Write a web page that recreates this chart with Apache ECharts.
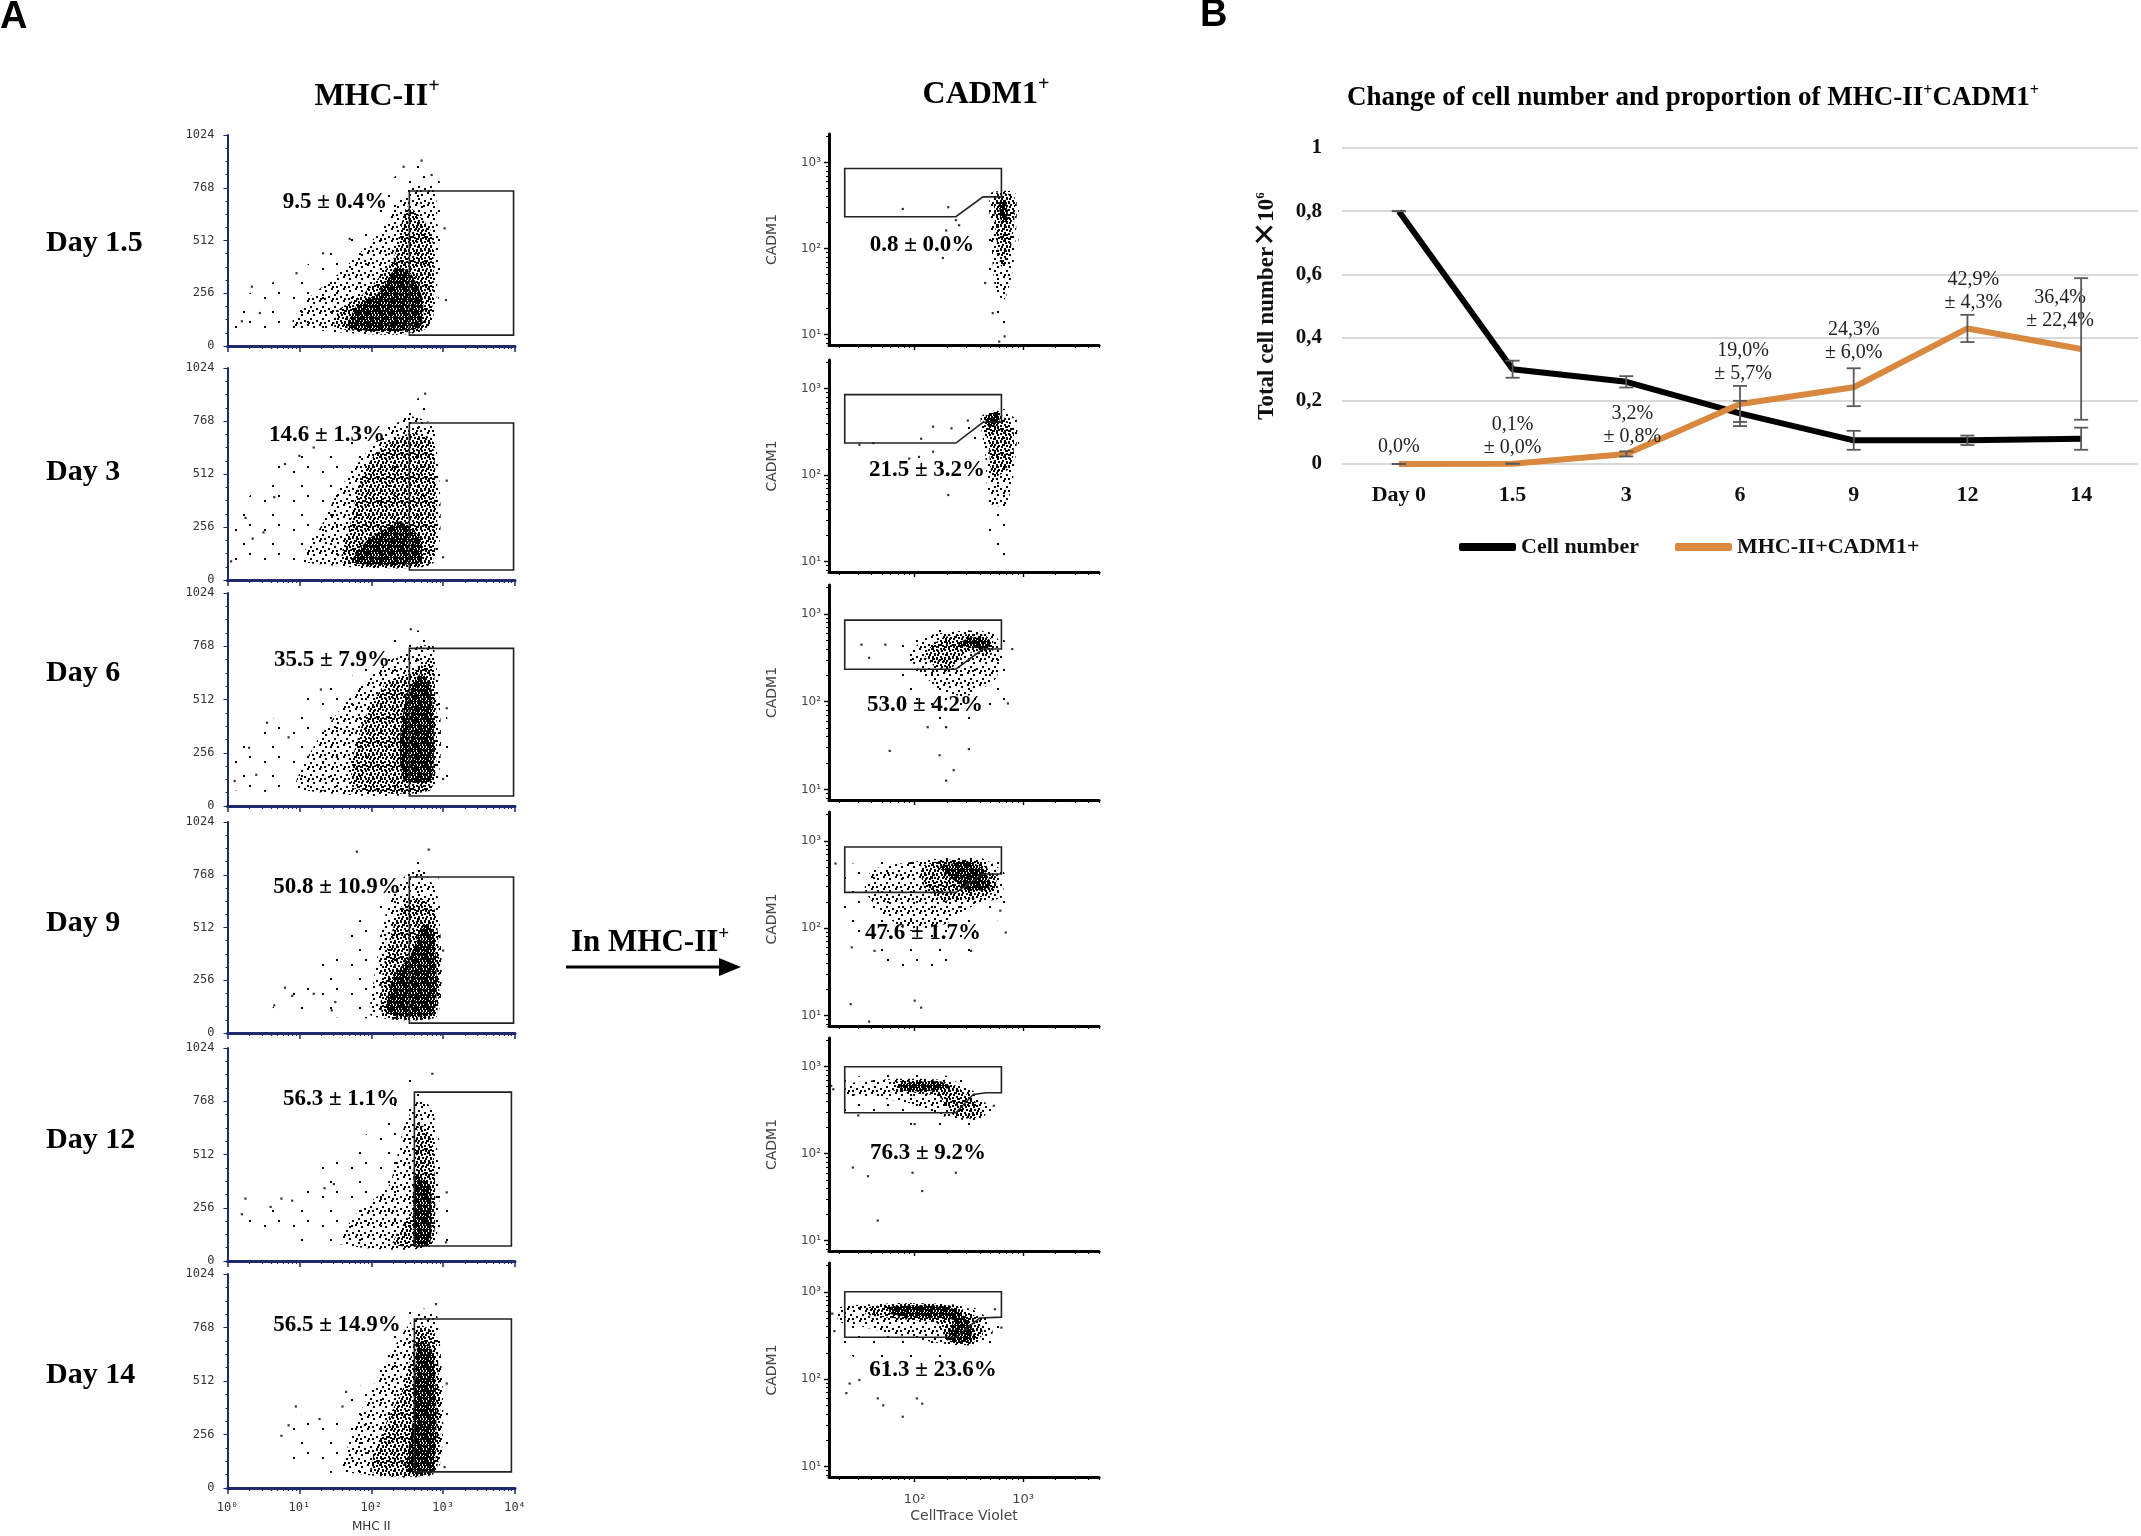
<!DOCTYPE html>
<html lang="en">
<head>
<meta charset="UTF-8">
<title>MHC-II / CADM1</title>
<script src="https://cdn.jsdelivr.net/npm/echarts@6/dist/echarts.min.js"></script>
<style>
  html, body { margin: 0; padding: 0; background: #fff; }
  #main { width: 2141px; height: 1536px; }
</style>
</head>
<body>
<div id="main"></div>
<script type="text/javascript">
// ---------- panel B data ----------
var days = ['Day 0', '1.5', '3', '6', '9', '12', '14'];
var cellNumber = [0.80, 0.30, 0.26, 0.16, 0.075, 0.075, 0.08];
var cellNumberErr = [0, 0.027, 0.018, 0.04, 0.03, 0.015, 0.035];
var doublePos = [0, 0.001, 0.032, 0.19, 0.243, 0.429, 0.364];
var doublePosErr = [0, 0, 0.008, 0.057, 0.06, 0.043, 0.224];
var doublePosText = ['0,0%', '0,1%', '3,2%', '19,0%', '24,3%', '42,9%', '36,4%'];
var doublePosErrText = ['', '± 0,0%', '± 0,8%', '± 5,7%', '± 6,0%', '± 4,3%', '± 22,4%'];

// ---------- panel A data ----------
var dayNames = ['Day 1.5', 'Day 3', 'Day 6', 'Day 9', 'Day 12', 'Day 14'];
var mhcPct = ['9.5 ± 0.4%', '14.6 ± 1.3%', '35.5 ± 7.9%', '50.8 ± 10.9%', '56.3 ± 1.1%', '56.5 ± 14.9%'];
var cadmPct = ['0.8 ± 0.0%', '21.5 ± 3.2%', '53.0 ± 4.2%', '47.6 ± 1.7%', '76.3 ± 9.2%', '61.3 ± 23.6%'];

// MHC II gate: [log10 x from, log10 x to, y from, y to]
var mhcGates = [
  [2.53, 3.98, 53, 752], [2.53, 3.98, 48, 758], [2.53, 3.98, 48, 758],
  [2.53, 3.98, 48, 757], [2.60, 3.95, 72, 812], [2.60, 3.95, 77, 809]
];
// CADM1 gate outlines, [log10 CellTrace Violet, log10 CADM1]
var cadmGates = [
  [[1.355, 2.93], [2.80, 2.93], [2.80, 2.60], [2.63, 2.60], [2.38, 2.37], [1.355, 2.37]],
  [[1.355, 2.93], [2.80, 2.93], [2.80, 2.61], [2.63, 2.61], [2.38, 2.37], [1.355, 2.37]],
  [[1.355, 2.93], [2.80, 2.93], [2.80, 2.60], [2.63, 2.60], [2.38, 2.37], [1.355, 2.37]],
  [[1.355, 2.93], [2.80, 2.93], [2.80, 2.62], [2.63, 2.62], [2.38, 2.41], [1.355, 2.41]],
  [[1.355, 3.0], [2.80, 3.0], [2.80, 2.70], [2.66, 2.70], [2.54, 2.68], [2.38, 2.47], [1.355, 2.47]],
  [[1.355, 3.0], [2.80, 3.0], [2.80, 2.71], [2.60, 2.70], [2.38, 2.48], [1.355, 2.48]]
];

var mhcClouds = [
  [ // Day 1.5
    [[0.01,175],[0,78],[2.79,78],[2.94,838],[2.45,870],[1.8,547],[0.9,353],[0.31,256]],
    [[0.91,86],[2.79,86],[2.89,773],[2.55,773],[2.1,547],[1.55,353],[1.1,223],[0.91,126]],
    [[1.5,86],[2.77,86],[2.84,547],[2.5,676],[2.3,417],[1.9,256],[1.55,175]],
    [[1.68,86],[2.67,86],[2.72,223],[2.55,353],[2.35,385],[2.1,256],[1.8,199]]
  ],
  [ // Day 3
    [[0.11,97],[0.11,290],[0.76,597],[1.5,629],[2.45,839],[2.79,887],[2.94,161],[2.89,84],[1.0,84]],
    [[1.06,84],[2.87,84],[2.87,742],[2.5,790],[2.0,645],[1.55,435],[1.3,258],[1.1,161]],
    [[1.6,84],[2.84,84],[2.85,677],[2.55,710],[2.1,629],[1.85,484],[1.7,258]],
    [[1.73,84],[2.69,84],[2.67,210],[2.4,282],[2.25,258],[1.95,194]]
  ],
  [ // Day 6
    [[0.11,77],[0.11,302],[0.61,414],[1.3,558],[1.8,639],[2.4,831],[2.84,831],[3.04,478],[3.04,93],[0.9,77]],
    [[0.96,85],[2.87,85],[2.87,767],[2.5,751],[2.05,639],[1.6,478],[1.2,286]],
    [[1.75,85],[2.84,85],[2.85,703],[2.55,639],[2.2,591],[1.9,414],[1.75,238]],
    [[2.45,125],[2.84,125],[2.84,558],[2.7,639],[2.5,543],[2.4,318]]
  ],
  [ // Day 9
    [[0.61,130],[0.96,221],[1.6,449],[2.15,677],[2.55,814],[2.89,848],[3.02,267],[2.99,84],[1.06,84]],
    [[2.0,84],[2.92,84],[2.92,677],[2.69,791],[2.5,768],[2.3,700],[2.15,495],[2.02,221]],
    [[2.17,84],[2.9,84],[2.9,586],[2.69,654],[2.45,632],[2.25,449],[2.15,267]],
    [[2.22,96],[2.87,96],[2.87,495],[2.72,529],[2.55,381],[2.3,267]]
  ],
  [ // Day 12
    [[0.16,207],[0.96,298],[1.3,455],[2.2,681],[2.5,884],[2.79,861],[3.04,343],[3.04,83],[1.0,83]],
    [[1.55,83],[2.87,83],[2.87,726],[2.65,771],[2.45,636],[2.25,365],[1.8,230]],
    [[2.3,83],[2.85,83],[2.85,591],[2.67,658],[2.6,501],[2.55,230]],
    [[2.6,83],[2.82,83],[2.82,365],[2.62,410]]
  ],
  [ // Day 14
    [[0.76,169],[0.96,349],[1.35,326],[1.8,461],[2.25,754],[2.55,844],[2.89,855],[3.04,506],[3.02,79],[1.26,79]],
    [[1.6,79],[2.92,79],[2.92,821],[2.65,833],[2.3,664],[1.8,326],[1.65,169]],
    [[2.0,79],[2.9,79],[2.9,731],[2.67,776],[2.45,484],[2.2,304]],
    [[2.5,79],[2.87,79],[2.87,641],[2.65,709],[2.6,371]]
  ]
];
var mhcStray = [
  [[3.02,571],[3.04,223],[2.45,870],[2.84,830],[0.34,288],[0.96,353],[1.33,450],[0.2,120],[0.45,160],[2.7,900],[1.7,520]],
  [[0.05,90],[0.25,300],[0.35,200],[0.8,560],[1.0,600],[0.65,400],[3.05,480],[3.0,110],[2.75,900],[1.2,640],[0.5,230]],
  [[0.1,120],[0.3,280],[0.55,400],[0.85,330],[1.3,560],[3.05,470],[3.0,130],[2.55,850],[0.4,150]],
  [[0.65,134],[0.8,220],[0.9,180],[1.2,190],[1.5,150],[3.0,400],[2.8,890],[1.8,880],[1.45,110]],
  [[0.2,225],[0.25,300],[0.6,260],[0.75,300],[0.9,290],[1.35,350],[1.48,370],[3.04,90],[3.05,330],[2.85,900]],
  [[0.75,250],[0.85,300],[0.95,390],[1.28,330],[1.6,390],[1.65,460],[3.05,500],[3.02,100],[2.9,880]]
];
var cadmClouds = [
  [ // Day 1.5
    [[2.63,2.33],[2.72,2.67],[2.94,2.71],[2.95,1.87],[2.86,1.02],[2.77,0.95],[2.69,1.68],[2.65,2.02]],
    [[2.7,2.64],[2.93,2.64],[2.91,1.79],[2.83,1.41],[2.75,1.48],[2.71,2.02]],
    [[2.74,2.64],[2.92,2.6],[2.89,2.02],[2.8,1.79],[2.75,2.17]],
    [[2.78,2.55],[2.84,2.56],[2.86,2.32],[2.8,2.3]]
  ],
  [ // Day 3
    [[2.38,2.44],[2.6,2.71],[2.72,2.81],[2.95,2.65],[2.94,1.79],[2.84,1.06],[2.72,1.06],[2.65,1.79],[2.6,2.25]],
    [[2.61,2.67],[2.74,2.75],[2.94,2.64],[2.91,1.98],[2.84,1.64],[2.69,1.68],[2.65,2.25]],
    [[2.63,2.65],[2.75,2.75],[2.91,2.52],[2.89,2.1],[2.72,1.98],[2.68,2.37]],
    [[2.65,2.67],[2.77,2.73],[2.78,2.6],[2.68,2.56]]
  ],
  [ // Day 6
    [[1.77,2.44],[1.95,2.75],[2.26,2.83],[2.64,2.79],[2.89,2.64],[2.87,1.98],[2.53,1.75],[2.23,1.71],[1.99,2.06],[1.82,2.33]],
    [[1.95,2.52],[2.12,2.75],[2.47,2.81],[2.74,2.77],[2.81,2.52],[2.74,2.25],[2.47,2.06],[2.23,2.14],[2.06,2.33]],
    [[2.09,2.54],[2.26,2.73],[2.57,2.77],[2.72,2.71],[2.7,2.52],[2.47,2.56],[2.33,2.37],[2.19,2.4]],
    [[2.4,2.65],[2.5,2.73],[2.69,2.71],[2.67,2.6],[2.52,2.62]]
  ],
  [ // Day 9
    [[1.27,2.67],[1.44,2.74],[1.95,2.78],[2.47,2.86],[2.77,2.78],[2.86,2.47],[2.81,2.2],[2.53,1.67],[1.95,1.51],[1.54,1.78],[1.27,2.28]],
    [[1.61,2.67],[2.12,2.78],[2.57,2.82],[2.79,2.67],[2.81,2.36],[2.57,2.28],[2.29,2.05],[1.95,1.97],[1.68,2.2],[1.54,2.44]],
    [[2.06,2.7],[2.29,2.78],[2.57,2.77],[2.75,2.59],[2.73,2.4],[2.53,2.34],[2.26,2.32],[2.09,2.47]],
    [[2.23,2.7],[2.5,2.76],[2.64,2.67],[2.7,2.47],[2.53,2.42],[2.36,2.55]]
  ],
  [ // Day 12
    [[1.22,2.84],[1.83,2.92],[2.38,2.88],[2.68,2.69],[2.71,2.49],[2.6,2.32],[2.23,2.3],[1.77,2.36],[1.4,2.42],[1.22,2.65]],
    [[1.37,2.8],[1.86,2.86],[2.35,2.84],[2.54,2.72],[2.68,2.53],[2.6,2.38],[2.29,2.42],[1.98,2.57],[1.62,2.65],[1.37,2.69]],
    [[1.8,2.82],[2.11,2.85],[2.35,2.8],[2.51,2.65],[2.63,2.49],[2.54,2.4],[2.35,2.45],[2.23,2.65],[1.98,2.7],[1.8,2.73]],
    [[1.86,2.8],[2.23,2.83],[2.34,2.76],[2.11,2.72],[1.89,2.73]]
  ],
  [ // Day 14
    [[1.23,2.83],[1.77,2.91],[2.35,2.89],[2.66,2.76],[2.81,2.57],[2.72,2.41],[2.38,2.3],[1.98,2.18],[1.55,2.14],[1.37,2.34],[1.23,2.57]],
    [[1.3,2.82],[1.83,2.87],[2.38,2.85],[2.63,2.74],[2.72,2.53],[2.54,2.39],[2.23,2.41],[1.92,2.49],[1.55,2.59],[1.3,2.66]],
    [[1.55,2.82],[1.92,2.87],[2.35,2.84],[2.56,2.72],[2.63,2.51],[2.48,2.39],[2.29,2.45],[2.23,2.64],[1.86,2.69],[1.55,2.74]],
    [[1.77,2.83],[2.23,2.84],[2.41,2.78],[2.53,2.57],[2.5,2.43],[2.3,2.46],[2.35,2.68],[1.98,2.71],[1.77,2.75]]
  ]
];
var cadmStray = [
  [[1.89,2.46],[2.31,2.48],[2.26,1.89],[2.65,1.6],[2.38,2.33],[2.41,2.27],[2.29,2.21],[2.78,0.92],[2.83,0.98],[2.72,1.25]],
  [[1.49,2.35],[1.62,2.37],[2.06,2.42],[2.17,2.56],[2.34,2.54],[1.95,2.19],[2.04,2.21],[2.17,2.27],[2.31,1.77],[2.49,2.63]],
  [[1.51,2.65],[1.73,2.65],[1.58,2.5],[1.77,1.44],[2.12,1.71],[2.29,1.71],[2.23,1.39],[2.36,1.22],[2.29,1.1],[2.5,1.46],[2.86,1.98],[2.9,2.6]],
  [[1.27,2.74],[1.42,1.78],[1.63,1.74],[2.52,1.74],[2.0,1.17],[2.06,1.09],[1.41,1.13],[1.58,0.93],[2.84,1.95],[2.79,2.2],[1.22,2.6]],
  [[1.23,2.78],[1.25,2.74],[1.43,1.84],[1.57,1.74],[1.98,1.78],[2.38,1.78],[2.07,1.57],[1.66,1.23],[1.48,2.44],[2.0,2.34],[2.73,2.55]],
  [[1.26,2.55],[1.37,1.84],[1.4,1.95],[1.66,1.78],[1.71,1.7],[1.89,1.57],[2.02,1.78],[2.07,1.72],[2.8,2.59],[2.74,2.8],[1.49,1.99],[1.24,2.75]]
];

// ---------- layout ----------
var leftTops = [135, 368, 593, 822, 1048, 1274];
var leftHeights = [211, 212, 213, 211, 213, 214];
var rightTops = [134, 360, 585, 812, 1038, 1263];
var rightHeights = [211, 212, 215, 214, 213, 214];
var dayLabelY = [243, 472, 673, 923, 1140, 1375];
var mhcPctPos = [[335, 202], [327, 435], [332, 660], [337, 887], [341, 1099], [337, 1325]];
var cadmPctPos = [[922, 245], [927, 470], [925, 705], [923, 933], [928, 1153], [933, 1370]];
var labelLift = [5, 4, 5, 18, 22, 14, 16];
var labelShift = [0, 0, 6, 3, 0, 6, -21];

var NAVY = '#1d2a6b';
var ORANGE = '#d9883f';
var SERIF = '"Liberation Serif", "Times New Roman", serif';
var SUP = { '0': '⁰', '1': '¹', '2': '²', '3': '³', '4': '⁴' };

var chart = echarts.init(document.getElementById('main'), null, { renderer: 'canvas' });

// stipple fills for the cloud zones (sparse -> packed)
var tileSpecs = [
  { size: 29, dots: [[3, 7], [17, 2], [11, 21]] },
  { size: 12, dots: [[1, 2], [7, 0], [10, 6], [4, 8], [8, 10], [0, 10]] },
  { size: 8, dots: [[0, 1], [4, 0], [2, 4], [6, 5], [5, 2], [1, 6]] },
  { size: 6, dots: [[0, 0], [3, 0], [1, 2], [4, 2], [0, 4], [3, 4], [2, 5], [5, 5], [5, 1]] }
];
function makeTile(spec) {
  var c = document.createElement('canvas');
  c.width = c.height = spec.size;
  var ctx = c.getContext('2d');
  ctx.fillStyle = '#000';
  spec.dots.forEach(function (d) { ctx.fillRect(d[0], d[1], 2, 2); });
  return { image: c, repeat: 'repeat' };
}
var levelFills = tileSpecs.map(makeTile);

function logMinors(lo, hi) {
  var v = [];
  for (var d = Math.floor(lo); d < hi; d++) {
    for (var m = 2; m <= 9; m++) {
      var t = d + Math.log10(m);
      if (t > lo && t < hi) v.push(t);
    }
  }
  return v;
}

var grids = [], xAxes = [], yAxes = [], series = [], graphics = [];

function addGrid(box) {
  box.containLabel = false;
  box.outerBoundsMode = 'none';
  grids.push(box);
  return grids.length - 1;
}

function cloudSeries(xi, yi, levels) {
  return {
    type: 'custom', xAxisIndex: xi, yAxisIndex: yi, silent: true, z: 2,
    data: levels.map(function (p) { return p[0]; }),
    renderItem: function (params, api) {
      var poly = levels[params.dataIndex];
      return {
        type: 'polygon',
        shape: { points: poly.map(function (p) { return api.coord(p); }), smooth: 0.2 },
        style: { fill: levelFills[params.dataIndex], stroke: null }
      };
    }
  };
}

function gateSeries(xi, yi, pts) {
  return {
    type: 'custom', xAxisIndex: xi, yAxisIndex: yi, silent: true, z: 4,
    data: [pts[0]],
    renderItem: function (params, api) {
      return {
        type: 'polygon',
        shape: { points: pts.map(function (p) { return api.coord(p); }) },
        style: { fill: 'none', stroke: '#222', lineWidth: 1.6 }
      };
    }
  };
}

function strays(xi, yi, pts) {
  return {
    type: 'scatter', xAxisIndex: xi, yAxisIndex: yi, silent: true, z: 3,
    symbol: 'rect', symbolSize: 2.2, itemStyle: { color: '#000' }, data: pts
  };
}

function plainNum(v) { return String(v); }

// ---------- left column: MHC II plots ----------
for (var i = 0; i < 6; i++) {
  var g = addGrid({ left: 227.5, top: leftTops[i], width: 287.5, height: leftHeights[i] });
  var xi = xAxes.length;
  xAxes.push({
    type: 'value', gridIndex: g, position: 'bottom', min: 0, max: 4, interval: 1,
    axisLine: { show: true, lineStyle: { color: NAVY, width: 3 } },
    axisTick: { show: true, length: 6, lineStyle: { color: NAVY, width: 1.5 } },
    axisLabel: {
      show: i === 5, margin: 14, fontFamily: 'DejaVu Sans Mono', fontSize: 12, color: '#333',
      formatter: function (v) { return '10' + SUP[String(v)]; }
    },
    splitLine: { show: false },
    name: i === 5 ? 'MHC II' : '', nameLocation: 'middle', nameGap: 33,
    nameTextStyle: { fontFamily: 'DejaVu Sans', fontSize: 12, color: '#333' }
  });
  xAxes.push({
    type: 'value', gridIndex: g, position: 'bottom', min: 0, max: 4,
    axisLine: { show: false }, axisLabel: { show: false }, splitLine: { show: false },
    axisTick: { show: true, length: 3, customValues: logMinors(0, 4), lineStyle: { color: NAVY, width: 1.2 } }
  });
  var yi = yAxes.length;
  yAxes.push({
    type: 'value', gridIndex: g, position: 'left', min: 0, max: 1024, interval: 256,
    axisLine: { show: true, lineStyle: { color: NAVY, width: 2 } },
    axisTick: { show: true, length: 4, lineStyle: { color: NAVY } },
    minorTick: { show: true, splitNumber: 4, length: 2, lineStyle: { color: NAVY } },
    axisLabel: { margin: 13, fontFamily: 'DejaVu Sans Mono', fontSize: 12, color: '#333', formatter: plainNum },
    splitLine: { show: false }
  });
  series.push(cloudSeries(xi, yi, mhcClouds[i]));
  var gr = mhcGates[i];
  series.push(gateSeries(xi, yi, [[gr[0], gr[2]], [gr[1], gr[2]], [gr[1], gr[3]], [gr[0], gr[3]]]));
  series.push(strays(xi, yi, mhcStray[i]));
}

// ---------- right column: CADM1 vs CellTrace Violet ----------
for (var j = 0; j < 6; j++) {
  var g2 = addGrid({ left: 829, top: rightTops[j], width: 270, height: rightHeights[j] });
  var xj = xAxes.length;
  xAxes.push({
    type: 'value', gridIndex: g2, position: 'bottom', min: 1.21, max: 3.70,
    axisLine: { show: true, lineStyle: { color: '#000', width: 3 } },
    axisTick: { show: true, length: 5, customValues: [2, 3], lineStyle: { color: '#000', width: 1.4 } },
    axisLabel: {
      show: j === 5, customValues: [2, 3], margin: 16, fontFamily: 'DejaVu Sans', fontSize: 13, color: '#444',
      formatter: function (v) { return '10' + SUP[String(Math.round(v))]; }
    },
    splitLine: { show: false },
    name: j === 5 ? 'CellTrace Violet' : '', nameLocation: 'middle', nameGap: 32,
    nameTextStyle: { fontFamily: 'DejaVu Sans', fontSize: 14, color: '#444' }
  });
  xAxes.push({
    type: 'value', gridIndex: g2, position: 'bottom', min: 1.21, max: 3.70,
    axisLine: { show: false }, axisLabel: { show: false }, splitLine: { show: false },
    axisTick: { show: true, length: 3, customValues: logMinors(1.21, 3.70), lineStyle: { color: '#000', width: 1.1 } }
  });
  var yj = yAxes.length;
  yAxes.push({
    type: 'value', gridIndex: g2, position: 'left', min: 0.88, max: 3.33,
    axisLine: { show: true, lineStyle: { color: '#000', width: 3 } },
    axisTick: { show: true, length: 5, customValues: [1, 2, 3], lineStyle: { color: '#000', width: 1.4 } },
    axisLabel: {
      customValues: [1, 2, 3], margin: 8, fontFamily: 'DejaVu Sans', fontSize: 12, color: '#444',
      formatter: function (v) { return '10' + SUP[String(Math.round(v))]; }
    },
    splitLine: { show: false },
    name: 'CADM1', nameLocation: 'middle', nameGap: 50, nameRotate: 90,
    nameTextStyle: { fontFamily: 'DejaVu Sans', fontSize: 14, color: '#444' }
  });
  yAxes.push({
    type: 'value', gridIndex: g2, position: 'left', min: 0.88, max: 3.33,
    axisLine: { show: false }, axisLabel: { show: false }, splitLine: { show: false },
    axisTick: { show: true, length: 3, customValues: logMinors(0.88, 3.33), lineStyle: { color: '#000', width: 1.1 } }
  });
  series.push(cloudSeries(xj, yj, cadmClouds[j]));
  series.push(gateSeries(xj, yj, cadmGates[j]));
  series.push(strays(xj, yj, cadmStray[j]));
}

// ---------- panel B ----------
var gB = addGrid({ left: 1342, top: 148, width: 796, height: 316 });
var bx = xAxes.length;
xAxes.push({
  type: 'category', gridIndex: gB, position: 'bottom', data: days, boundaryGap: true,
  axisLine: { show: false }, axisTick: { show: false },
  axisLabel: { margin: 20, fontFamily: SERIF, fontWeight: 'bold', fontSize: 22, color: '#111' }
});
var by = yAxes.length;
yAxes.push({
  type: 'value', gridIndex: gB, position: 'left', min: 0, max: 1, interval: 0.2,
  axisLine: { show: false }, axisTick: { show: false },
  splitLine: { show: true, lineStyle: { color: '#d9d9d9', width: 2 } },
  axisLabel: {
    margin: 20, fontFamily: SERIF, fontWeight: 'bold', fontSize: 21, color: '#111',
    formatter: function (v) { return String(+v.toFixed(1)).replace('.', ','); }
  },
  name: '{a|Total cell number}{x|✕}{a|10}{s|6}', nameLocation: 'middle', nameGap: 60, nameRotate: 90,
  nameTextStyle: {
    rich: {
      a: { fontFamily: SERIF, fontWeight: 'bold', fontSize: 23, color: '#111' },
      x: { fontFamily: 'DejaVu Sans', fontWeight: 'bold', fontSize: 30, color: '#111' },
      s: { fontFamily: SERIF, fontWeight: 'bold', fontSize: 13, color: '#111', padding: [0, 0, 12, 0] }
    }
  }
});

series.push({
  name: 'Cell number', type: 'line', xAxisIndex: bx, yAxisIndex: by, z: 3,
  data: cellNumber, showSymbol: false, symbol: 'none', color: '#000',
  lineStyle: { color: '#000', width: 6, join: 'round' }, itemStyle: { color: '#000' }
});
series.push({
  name: 'MHC-II+CADM1+', type: 'line', xAxisIndex: bx, yAxisIndex: by, z: 4,
  data: doublePos.map(function (v, k) {
    return { value: v, label: { distance: labelLift[k], offset: [labelShift[k], 0] } };
  }),
  symbol: 'circle', symbolSize: 1, showSymbol: true, color: ORANGE,
  lineStyle: { color: ORANGE, width: 6, join: 'round' }, itemStyle: { color: ORANGE },
  label: {
    show: true, position: 'top', fontFamily: SERIF, fontSize: 20, lineHeight: 23, color: '#222',
    formatter: function (p) {
      var e = doublePosErrText[p.dataIndex];
      return doublePosText[p.dataIndex] + (e ? '\n' + e : '');
    }
  }
});

function errorBars(vals, errs) {
  return {
    type: 'custom', xAxisIndex: bx, yAxisIndex: by, silent: true, z: 5,
    encode: { x: 0, y: [1, 2] },
    data: vals.map(function (v, k) { return [k, v - errs[k], v + errs[k]]; }),
    renderItem: function (params, api) {
      var lo = api.coord([api.value(0), api.value(1)]);
      var hi = api.coord([api.value(0), api.value(2)]);
      var hw = 7;
      var st = { stroke: '#595959', lineWidth: 1.8 };
      return {
        type: 'group', children: [
          { type: 'line', shape: { x1: lo[0], y1: lo[1], x2: hi[0], y2: hi[1] }, style: st },
          { type: 'line', shape: { x1: lo[0] - hw, y1: lo[1], x2: lo[0] + hw, y2: lo[1] }, style: st },
          { type: 'line', shape: { x1: hi[0] - hw, y1: hi[1], x2: hi[0] + hw, y2: hi[1] }, style: st }
        ]
      };
    }
  };
}
series.push(errorBars(cellNumber, cellNumberErr));
series.push(errorBars(doublePos, doublePosErr));

// ---------- texts ----------
function txt(x, y, text, font, align, extra) {
  var st = { text: text, font: font, fill: '#000', align: align || 'center', verticalAlign: 'middle' };
  if (extra) for (var k in extra) st[k] = extra[k];
  return { type: 'text', x: x, y: y, silent: true, z: 20, style: st };
}
var boldSerif = function (px) { return 'bold ' + px + 'px ' + SERIF; };
var supRich = function (big, small, lift) {
  return {
    m: { font: boldSerif(big), fill: '#000' },
    s: { font: boldSerif(small), fill: '#000', padding: [0, 0, lift, 0] }
  };
};

graphics.push(txt(0, 18, 'A', 'bold 38px "Liberation Sans", Arial, sans-serif', 'left'));
graphics.push(txt(1200, 16, 'B', 'bold 38px "Liberation Sans", Arial, sans-serif', 'left'));
graphics.push(txt(377, 97, '{m|MHC-II}{s|+}', null, 'center', { rich: supRich(32, 20, 20) }));
graphics.push(txt(986, 95, '{m|CADM1}{s|+}', null, 'center', { rich: supRich(32, 20, 20) }));
graphics.push(txt(1693, 98, '{m|Change of cell number and proportion of MHC-II}{s|+}{m|CADM1}{s|+}', null, 'center',
  { rich: supRich(27, 16, 15) }));
graphics.push(txt(571, 943, '{m|In MHC-II}{s|+}', null, 'left', { rich: supRich(31, 19, 18) }));
graphics.push({
  type: 'group', silent: true, children: [
    { type: 'line', shape: { x1: 566, y1: 967, x2: 724, y2: 967 }, style: { stroke: '#000', lineWidth: 3 } },
    { type: 'polygon', shape: { points: [[719, 958], [741, 967], [719, 976]] }, style: { fill: '#000' } }
  ]
});
for (var t = 0; t < 6; t++) {
  graphics.push(txt(46, dayLabelY[t], dayNames[t], boldSerif(30), 'left'));
  graphics.push(txt(mhcPctPos[t][0], mhcPctPos[t][1], mhcPct[t], boldSerif(23)));
  graphics.push(txt(cadmPctPos[t][0], cadmPctPos[t][1], cadmPct[t], boldSerif(23)));
}

chart.setOption({
  animation: false,
  backgroundColor: '#fff',
  grid: grids,
  xAxis: xAxes,
  yAxis: yAxes,
  legend: {
    data: ['Cell number', 'MHC-II+CADM1+'],
    left: 1454, top: 531, itemWidth: 57, itemHeight: 8, itemGap: 36, icon: 'roundRect',
    selectedMode: false,
    textStyle: { fontFamily: SERIF, fontWeight: 'bold', fontSize: 22, color: '#111' }
  },
  series: series,
  graphic: graphics
});
</script>
</body>
</html>
